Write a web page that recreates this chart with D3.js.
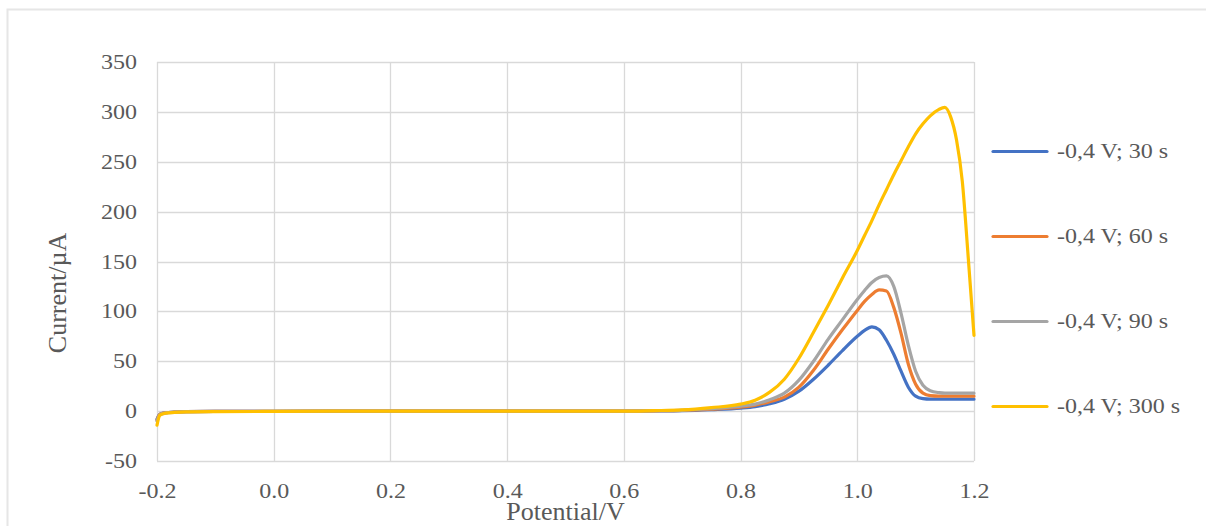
<!DOCTYPE html>
<html>
<head>
<meta charset="utf-8">
<script src="https://cdn.jsdelivr.net/npm/d3@7"></script>
<style>
  html, body { margin: 0; padding: 0; background: #ffffff; }
  svg { display: block; }
  text { font-family: "Liberation Serif", "Times New Roman", serif; fill: #595959; }
</style>
</head>
<body>
<svg id="chart" width="1206" height="526"></svg>
<script>
// ---- data ----
const potentials = [-0.2, -0.195, -0.185, -0.17, -0.15, -0.1, 0.0, 0.1, 0.2, 0.3, 0.4, 0.5, 0.6, 0.65, 0.7, 0.75, 0.8, 0.825, 0.85, 0.875, 0.9, 0.925, 0.95, 0.975, 1.0, 1.0125, 1.025, 1.0375, 1.05, 1.0625, 1.075, 1.0875, 1.1, 1.1125, 1.125, 1.14, 1.15, 1.16, 1.17, 1.18, 1.19, 1.2];

const current30 = [-8, -3, -1.5, -1, -0.5, -0.3, -0.2, 0, 0, 0, 0, 0, 0, 0.2, 0.5, 1.5, 3, 4.5, 7.5, 12, 20, 32, 46, 61, 75, 81, 84.5, 81.5, 71, 57, 40, 24, 15, 12.5, 12, 12, 12, 12, 12, 12, 12, 12];
const current60 = [-9, -3, -1.5, -1, -0.5, -0.3, -0.2, 0, 0, 0, 0, 0, 0, 0.3, 0.7, 2, 4, 6, 9.5, 14, 24, 41, 62, 82, 101, 110, 117, 121.5, 120.5, 104, 78, 47, 27, 18, 15.5, 15, 15, 15, 15, 15, 15, 15];
const current90 = [-10, -3.5, -1.7, -1.1, -0.6, -0.3, -0.2, 0, 0, 0, 0, 0, 0, 0.4, 0.8, 2.5, 5, 7, 11.5, 18, 31, 50, 72, 92, 112, 121, 129, 134, 135.5, 125, 98, 66, 40, 26, 20.5, 18.5, 18, 18, 18, 18, 18, 18];
const current300 = [-14, -4, -2, -1.3, -0.8, -0.5, -0.3, 0, 0, 0, 0, 0, 0, 0.5, 1.2, 3.5, 7, 11, 19, 32, 53, 79, 106, 134, 161, 176, 191, 207, 222, 237, 251, 265, 278, 288, 296, 302.5, 304.5, 295, 272, 230, 155, 76];

const seriesNames = ["-0,4 V; 30 s", "-0,4 V; 60 s", "-0,4 V; 90 s", "-0,4 V; 300 s"];
const seriesColors = ["#4472C4", "#ED7D31", "#A5A5A5", "#FFC000"];
const xTicks = [-0.2, 0.0, 0.2, 0.4, 0.6, 0.8, 1.0, 1.2];
const yTicks = [-50, 0, 50, 100, 150, 200, 250, 300, 350];
const xTitle = "Potential/V";
const yTitle = "Current/µA";

// ---- layout ----
const svg = d3.select("#chart");
const plot = { left: 157, right: 974, top: 62, bottom: 461 };
const x = d3.scaleLinear().domain([-0.2, 1.2]).range([plot.left, plot.right]);
const y = d3.scaleLinear().domain([-50, 350]).range([plot.bottom, plot.top]);
const stretch = 1.2;

// outer frame
svg.append("rect")
  .attr("x", 7.5).attr("y", 9.5).attr("width", 1220).attr("height", 540)
  .attr("fill", "none").attr("stroke", "#e6e6e6").attr("stroke-width", 2);

// gridlines
const grid = svg.append("g");
grid.selectAll("line.h").data(yTicks).join("line")
  .attr("x1", plot.left).attr("x2", plot.right)
  .attr("y1", d => Math.round(y(d)) + 0.5).attr("y2", d => Math.round(y(d)) + 0.5)
  .attr("stroke", "#d9d9d9").attr("stroke-width", 1.3);
grid.selectAll("line.v").data(xTicks).join("line")
  .attr("y1", plot.top).attr("y2", plot.bottom)
  .attr("x1", d => Math.round(x(d)) + 0.5).attr("x2", d => Math.round(x(d)) + 0.5)
  .attr("stroke", "#d9d9d9").attr("stroke-width", 1.3);

// axes labels via d3 axes (plain hyphen-minus as in the reference)
const xAxis = d3.axisBottom(x).tickValues(xTicks).tickFormat(d => d.toFixed(1)).tickSize(0).tickPadding(0);
const yAxis = d3.axisLeft(y).tickValues(yTicks).tickFormat(d => String(d)).tickSize(0).tickPadding(0);

const gx = svg.append("g").attr("transform", `translate(0,${plot.bottom})`).call(xAxis);
gx.select(".domain").remove();
gx.selectAll(".tick text")
  .attr("y", 0).attr("dy", null)
  .attr("transform", `translate(0,37) scale(${stretch},1)`)
  .style("font-size", "20px").style("font-family", "Liberation Serif").attr("fill", "#595959");

const gy = svg.append("g").attr("transform", `translate(137,0)`).call(yAxis);
gy.select(".domain").remove();
gy.selectAll(".tick text")
  .attr("x", 0).attr("dy", null)
  .attr("transform", `translate(0,6.5) scale(${stretch},1)`)
  .style("font-size", "20px").style("font-family", "Liberation Serif").attr("fill", "#595959")
  .attr("text-anchor", "end");

// axis titles
svg.append("text")
  .attr("x", (plot.left + plot.right) / 2).attr("y", 520)
  .attr("text-anchor", "middle").style("font-size", "26px")
  .text(xTitle);
svg.append("text")
  .attr("transform", `translate(66,293) rotate(-90)`)
  .attr("text-anchor", "middle").style("font-size", "26px")
  .text(yTitle);

// lines
const allSeries = [current30, current60, current90, current300];
const line = d3.line()
  .x((d, i) => x(potentials[i]))
  .y(d => y(d))
  .curve(d3.curveMonotoneX);

svg.append("g").selectAll("path").data(allSeries).join("path")
  .attr("d", d => line(d))
  .attr("fill", "none")
  .attr("stroke", (d, i) => seriesColors[i])
  .attr("stroke-width", 3.2)
  .attr("stroke-linecap", "round")
  .attr("stroke-linejoin", "round");

// legend
const legendY = [151.5, 236.5, 321.5, 406.5];
const lg = svg.append("g").selectAll("g").data(seriesNames).join("g")
  .attr("transform", (d, i) => `translate(993,${legendY[i]})`);
lg.append("line")
  .attr("x1", 0).attr("x2", 54).attr("y1", 0).attr("y2", 0)
  .attr("stroke", (d, i) => seriesColors[i]).attr("stroke-width", 3.2).attr("stroke-linecap", "round");
lg.append("text")
  .attr("transform", `translate(64,6.6) scale(${stretch},1)`)
  .style("font-size", "20px")
  .text(d => d);
</script>
</body>
</html>
